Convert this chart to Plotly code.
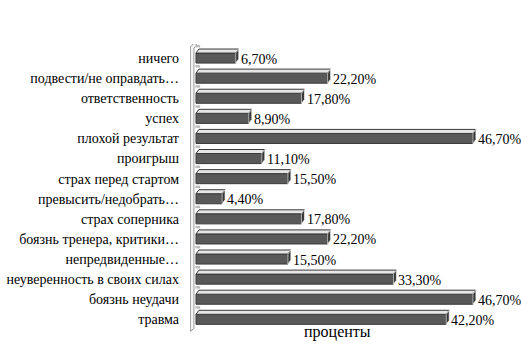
import plotly.graph_objects as go

# Survey answers and their shares (percent)
categories = [
    "ничего",
    "подвести/не оправдать…",
    "ответственность",
    "успех",
    "плохой результат",
    "проигрыш",
    "страх перед стартом",
    "превысить/недобрать…",
    "страх соперника",
    "боязнь тренера, критики…",
    "непредвиденные…",
    "неуверенность в своих силах",
    "боязнь неудачи",
    "травма",
]
values = [6.7, 22.2, 17.8, 8.9, 46.7, 11.1, 15.5, 4.4, 17.8, 22.2, 15.5, 33.3, 46.7, 42.2]
value_labels = ["6,70%", "22,20%", "17,80%", "8,90%", "46,70%", "11,10%", "15,50%",
                "4,40%", "17,80%", "22,20%", "15,50%", "33,30%", "46,70%", "42,20%"]
series_name = "проценты"

FONT = "Liberation Serif"
FRONT = "#595959"
EDGE = "#3a3a3a"
TOP = "#e6e6e6"
SIDE = "#383838"

pos = list(range(len(categories)))
bar_w = 0.5          # front face thickness (category units)
dx, dy = 0.5, 0.2    # 3-D depth offset (x units, category units)

fig = go.Figure()
fig.add_trace(go.Bar(
    x=values, y=pos, orientation="h", width=bar_w,
    marker=dict(color=FRONT, line=dict(color=EDGE, width=1)),
    name=series_name, showlegend=False, hoverinfo="skip",
))

shapes = []
# left wall of the 3-D plot
shapes.append(dict(type="path", xref="x", yref="y",
                   path="M -0.95,13.6 L -0.95,-0.55 L 0.05,-0.85 L 0.05,-0.62 L -0.35,-0.5 L -0.35,13.45 Z",
                   fillcolor="#f4f4f4", line=dict(color="#9a9a9a", width=1), layer="below"))
for p, v in zip(pos, values):
    top = p - bar_w / 2
    bot = p + bar_w / 2
    # top face
    shapes.append(dict(type="path", xref="x", yref="y",
                       path=f"M 0,{top} L {v},{top} L {v+dx},{top-dy} L {dx},{top-dy} Z",
                       fillcolor=TOP, line=dict(color=EDGE, width=1)))
    # end face
    shapes.append(dict(type="path", xref="x", yref="y",
                       path=f"M {v},{top} L {v+dx},{top-dy} L {v+dx},{bot-dy} L {v},{bot} Z",
                       fillcolor=SIDE, line=dict(color="#ffffff", width=0.6)))
    # small floor marks on the wall
    shapes.append(dict(type="rect", xref="x", yref="y",
                       x0=-0.1, x1=0.7, y0=top - dy - 0.2, y1=top - dy - 0.08,
                       fillcolor="#bcbcbc", line=dict(width=0)))

annotations = []
for p, v, t in zip(pos, values, value_labels):
    annotations.append(dict(x=v, y=p, xref="x", yref="y", text=t, showarrow=False,
                            xanchor="left", yanchor="middle", xshift=3, yshift=-1,
                            font=dict(family=FONT, size=14, color="#000000")))
annotations.append(dict(x=0.477, y=0.0, xref="paper", yref="paper", text=series_name,
                        showarrow=False, xanchor="center", yanchor="middle", yshift=1,
                        font=dict(family=FONT, size=16, color="#000000")))

fig.update_layout(
    width=521, height=347,
    margin=dict(l=190, r=21, t=44, b=14),
    paper_bgcolor="#ffffff", plot_bgcolor="#ffffff",
    shapes=shapes, annotations=annotations,
    xaxis=dict(range=[-1.01, 51.27], visible=False, fixedrange=True, automargin=False),
    yaxis=dict(range=[13.68, -0.7], tickvals=pos, ticktext=categories,
               showgrid=False, zeroline=False, showline=False, ticks="",
               ticklabelstandoff=10, automargin=False,
               tickfont=dict(family=FONT, size=14, color="#000000")),
    showlegend=False,
)

fig.write_html("out.html")
